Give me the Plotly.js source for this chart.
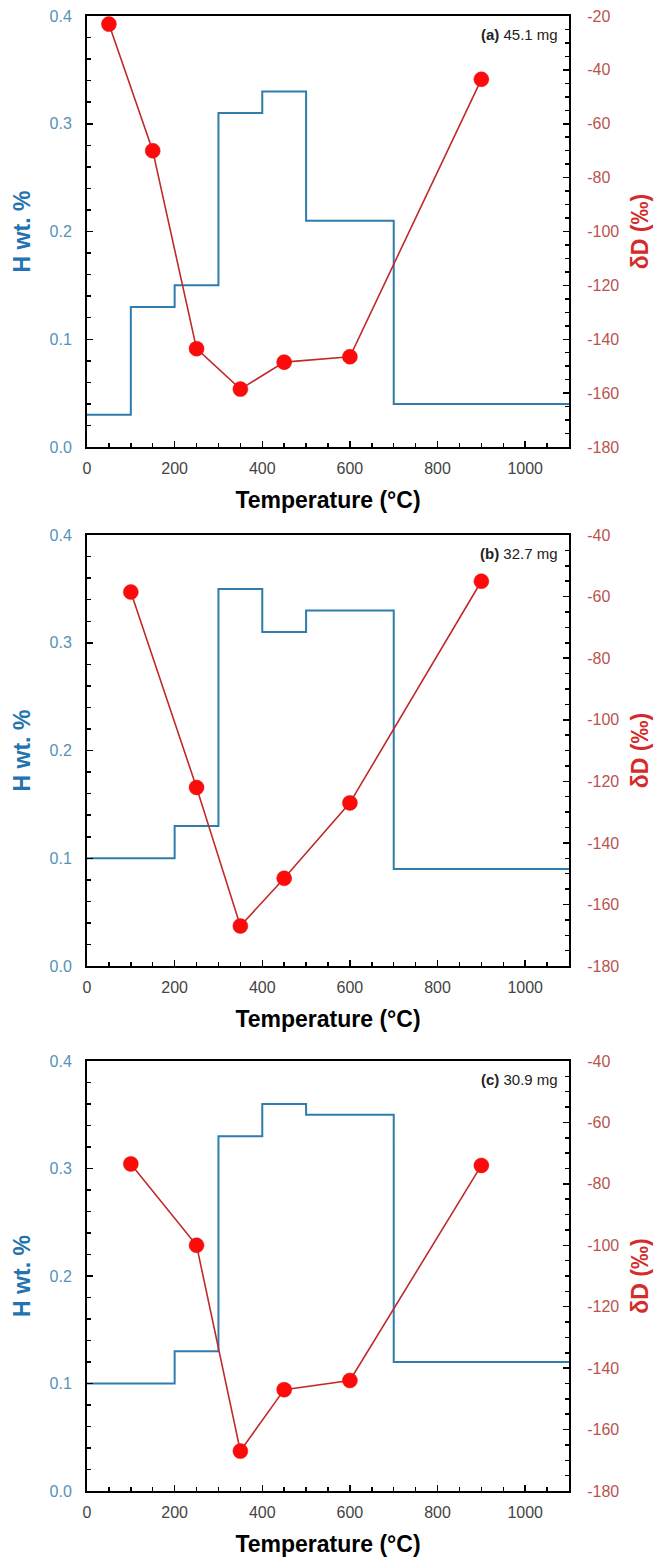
<!DOCTYPE html>
<html>
<head>
<meta charset="utf-8">
<script src="https://cdn.plot.ly/plotly-3.0.1.min.js"></script>
<style>html,body{margin:0;padding:0;background:#fff;}#chart{width:658px;height:1562px;}</style>
</head>
<body>
<div id="chart"></div>
<script>
// ---- data ----
const panelLabels = ["(a)", "(b)", "(c)"];
const sampleMass = ["45.1 mg", "32.7 mg", "30.9 mg"];

const stepTempA = [0, 100, 200, 300, 400, 500, 700, 1100];
const hWtA      = [0.03, 0.13, 0.15, 0.31, 0.33, 0.21, 0.04, 0.04];
const stepTempB = [0, 200, 300, 400, 500, 700, 1100];
const hWtB      = [0.10, 0.13, 0.35, 0.31, 0.33, 0.09, 0.09];
const stepTempC = [0, 200, 300, 400, 500, 700, 1100];
const hWtC      = [0.10, 0.13, 0.33, 0.36, 0.35, 0.12, 0.12];

const dTempA = [50, 150, 250, 350, 450, 600, 900];
const dDA    = [-23, -70, -143.5, -158.5, -148.5, -146.5, -43.5];
const dTempB = [100, 250, 350, 450, 600, 900];
const dDB    = [-58.5, -122, -167, -151.5, -127, -55];
const dTempC = [100, 250, 350, 450, 600, 900];
const dDC    = [-73.5, -100, -167, -147, -144, -74];

const xTicks = [0, 200, 400, 600, 800, 1000];
const hTicks = [0, 0.1, 0.2, 0.3, 0.4];
const hTickText = ["0.0", "0.1", "0.2", "0.3", "0.4"];
const dTicksA = [-180, -160, -140, -120, -100, -80, -60, -40, -20];
const dTicksBC = [-180, -160, -140, -120, -100, -80, -60, -40];

// ---- styling ----
const FONT = "Liberation Sans, Arial, sans-serif";
const blueLine = "#2f7cad";
const blueTick = "#5592b8";
const blueTitle = "#2373b0";
const redLine = "#c02a2a";
const redMarker = "#ff0a0a";
const redTick = "#b85450";
const redTitle = "#d42b2b";

const panels = [
  {st: stepTempA, h: hWtA, dt: dTempA, dd: dDA, dr: [-180, -20], dticks: dTicksA},
  {st: stepTempB, h: hWtB, dt: dTempB, dd: dDB, dr: [-180, -40], dticks: dTicksBC},
  {st: stepTempC, h: hWtC, dt: dTempC, dd: dDC, dr: [-180, -40], dticks: dTicksBC}
];
const domains = [[0.7078, 1.0], [0.3559, 0.6481], [0.0, 0.2915]];

const traces = [];
const layout = {
  width: 658, height: 1562,
  margin: {l: 87, r: 89, t: 16, b: 71},
  paper_bgcolor: "#fff", plot_bgcolor: "#fff",
  showlegend: false,
  font: {family: FONT},
  annotations: []
};

panels.forEach((p, i) => {
  const n = i + 1;
  const xName = n === 1 ? "x" : "x" + n;
  const yL = 2 * i + 1, yR = 2 * i + 2;
  const yLName = yL === 1 ? "y" : "y" + yL;
  const yRName = "y" + yR;

  traces.push({
    type: "scatter", mode: "lines", x: p.st, y: p.h,
    xaxis: xName, yaxis: yLName,
    line: {shape: "hv", color: blueLine, width: 2}, hoverinfo: "skip"
  });
  traces.push({
    type: "scatter", mode: "lines+markers", x: p.dt, y: p.dd,
    xaxis: xName, yaxis: yRName,
    line: {color: redLine, width: 1.6},
    marker: {color: redMarker, size: 15, line: {color: "#e01010", width: 0.5}},
    cliponaxis: false, hoverinfo: "skip"
  });

  const xKey = n === 1 ? "xaxis" : "xaxis" + n;
  const yLKey = yL === 1 ? "yaxis" : "yaxis" + yL;
  const yRKey = "yaxis" + yR;

  layout[xKey] = {
    domain: [0, 1], anchor: yLName, range: [0, 1100],
    tickmode: "array", tickvals: xTicks, ticktext: xTicks.map(String),
    ticks: "inside", ticklen: 6, tickwidth: 1.5, tickcolor: "#000",
    minor: {tickmode: "linear", tick0: 0, dtick: 50, ticks: "inside", ticklen: 4, tickwidth: 1.5, tickcolor: "#000"},
    showline: true, linecolor: "#000", linewidth: 2, mirror: true,
    showgrid: false, zeroline: false, ticklabelstandoff: 6,
    tickfont: {size: 16, color: "#444", family: FONT},
    title: {text: "<b>Temperature (°C)</b>", font: {size: 23, color: "#000", family: FONT}, standoff: 16}
  };
  layout[yLKey] = {
    domain: domains[i], anchor: xName, range: [0, 0.4],
    tickmode: "array", tickvals: hTicks, ticktext: hTickText,
    ticks: "inside", ticklen: 6, tickwidth: 1.5, tickcolor: "#000",
    minor: {tickmode: "linear", tick0: 0, dtick: 0.02, ticks: "inside", ticklen: 4, tickwidth: 1.5, tickcolor: "#000"},
    showline: true, linecolor: "#000", linewidth: 2,
    showgrid: false, zeroline: false, ticklabelstandoff: 10,
    tickfont: {size: 16, color: blueTick, family: FONT},
    title: {text: "<b>H wt. %</b>", font: {size: 23, color: blueTitle, family: FONT}, standoff: 12}
  };
  layout[yRKey] = {
    overlaying: yLName, side: "right", anchor: xName, range: p.dr,
    tickmode: "array", tickvals: p.dticks, ticktext: p.dticks.map(String),
    ticks: "inside", ticklen: 6, tickwidth: 1.5, tickcolor: "#000",
    minor: {tickmode: "linear", tick0: -180, dtick: 5, ticks: "inside", ticklen: 4, tickwidth: 1.5, tickcolor: "#000"},
    showline: true, linecolor: "#000", linewidth: 2,
    showgrid: false, zeroline: false, ticklabelstandoff: 13,
    tickfont: {size: 16, color: redTick, family: FONT},
    title: {text: "<b>δD (‰)</b>", font: {size: 23, color: redTitle, family: FONT}, standoff: 14}
  };
  layout.annotations.push({
    xref: xName + " domain", yref: yLName + " domain",
    x: 0.981, y: 0.958, xanchor: "right", yanchor: "middle",
    text: "<b>" + panelLabels[i] + "</b> " + sampleMass[i],
    showarrow: false, font: {size: 15, color: "#222", family: FONT}
  });
});

Plotly.newPlot("chart", traces, layout, {staticPlot: true, displayModeBar: false});
</script>
</body>
</html>
